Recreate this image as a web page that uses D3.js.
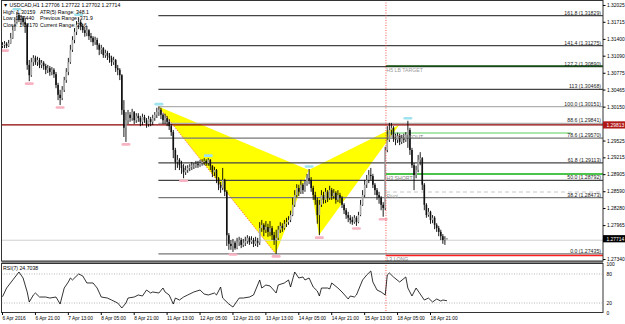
<!DOCTYPE html>
<html><head><meta charset="utf-8">
<script src="https://cdn.jsdelivr.net/npm/d3@7"></script>
<style>
html,body{margin:0;padding:0;background:#fff;}
svg{display:block;font-family:"Liberation Sans",Arial,sans-serif;}
</style></head><body>
<svg id="c" width="625" height="324"></svg>
<script>
// ---------- DATA ----------
const firstOpen = 1.3127;
const closes = [
1.3129,1.3131,1.3127,1.3132,1.3142,1.3156,1.3171,1.3184,1.3175,1.3179,
1.3171,1.3166,1.3092,1.3073,1.3097,1.3105,1.3097,1.3101,1.3092,1.3096,
1.3090,1.3083,1.3086,1.3079,1.3083,1.3075,1.3055,1.3037,1.3031,1.3046,
1.3064,1.3079,1.3097,1.3120,1.3138,1.3153,1.3166,1.3171,1.3164,1.3156,
1.3151,1.3156,1.3145,1.3142,1.3134,1.3138,1.3129,1.3120,1.3123,1.3110,
1.3114,1.3109,1.3105,1.3097,1.3101,1.3086,1.3083,1.3073,1.3009,1.2976,
1.2990,1.3000,1.2994,1.3005,1.2990,1.2998,1.2994,1.2987,1.2996,1.2990,
1.2983,1.2992,1.2987,1.2994,1.3000,1.3005,1.3009,1.3000,1.2990,1.2994,
1.2987,1.2979,1.2968,1.2935,1.2913,1.2917,1.2907,1.2902,1.2894,1.2898,
1.2902,1.2904,1.2906,1.2906,1.2909,1.2907,1.2911,1.2913,1.2915,1.2911,
1.2917,1.2906,1.2894,1.2898,1.2883,1.2871,1.2865,1.2880,1.2858,1.2778,
1.2762,1.2758,1.2764,1.2754,1.2765,1.2769,1.2760,1.2764,1.2767,1.2773,
1.2765,1.2769,1.2762,1.2767,1.2764,1.2791,1.2797,1.2788,1.2793,1.2784,
1.2791,1.2778,1.2769,1.2773,1.2788,1.2795,1.2791,1.2799,1.2802,1.2806,
1.2815,1.2834,1.2852,1.2865,1.2858,1.2871,1.2861,1.2872,1.2883,1.2880,
1.2865,1.2852,1.2843,1.2815,1.2834,1.2852,1.2843,1.2858,1.2847,1.2861,
1.2850,1.2856,1.2843,1.2852,1.2847,1.2834,1.2824,1.2815,1.2810,1.2806,
1.2802,1.2810,1.2802,1.2815,1.2834,1.2852,1.2871,1.2880,1.2889,1.2887,
1.2871,1.2861,1.2852,1.2847,1.2834,1.2828,1.2935,1.2954,1.2972,1.2976,
1.2957,1.2954,1.2961,1.2950,1.2957,1.2954,1.2963,1.2972,1.2935,1.2907,
1.2889,1.2898,1.2917,1.2920,1.2871,1.2834,1.2815,1.2821,1.2806,1.2810,
1.2797,1.2791,1.2784,1.2776,1.2769,1.27706,1.27714];
const highs = [
1.3134,1.3136,1.3134,1.3138,1.3151,1.3164,1.3180,1.3190,1.3188,1.3184,
1.3182,1.3179,1.3168,1.3101,1.3105,1.3110,1.3109,1.3107,1.3105,1.3101,
1.3099,1.3094,1.3092,1.3090,1.3088,1.3086,1.3079,1.3059,1.3046,1.3053,
1.3070,1.3086,1.3105,1.3129,1.3145,1.3160,1.3173,1.3180,1.3175,1.3168,
1.3162,1.3164,1.3158,1.3151,1.3145,1.3144,1.3142,1.3132,1.3129,1.3125,
1.3120,1.3118,1.3114,1.3109,1.3107,1.3103,1.3092,1.3086,1.3075,1.3027,
1.3005,1.3009,1.3005,1.3011,1.3007,1.3003,1.3003,1.2998,1.3002,1.3000,
1.2994,1.2998,1.2996,1.3000,1.3005,1.3013,1.3015,1.3013,1.3003,1.3002,
1.2998,1.2992,1.2983,1.2972,1.2939,1.2926,1.2920,1.2915,1.2909,1.2906,
1.2907,1.2909,1.2913,1.2911,1.2915,1.2915,1.2917,1.2918,1.2920,1.2918,
1.2920,1.2918,1.2907,1.2904,1.2900,1.2885,1.2876,1.2902,1.2882,1.2861,
1.2782,1.2769,1.2771,1.2767,1.2773,1.2775,1.2773,1.2771,1.2775,1.2778,
1.2776,1.2776,1.2773,1.2775,1.2773,1.2802,1.2806,1.2800,1.2804,1.2799,
1.2804,1.2795,1.2784,1.2788,1.2795,1.2802,1.2800,1.2806,1.2810,1.2813,
1.2823,1.2847,1.2861,1.2872,1.2871,1.2880,1.2874,1.2880,1.2891,1.2900,
1.2885,1.2869,1.2858,1.2847,1.2843,1.2861,1.2858,1.2865,1.2861,1.2869,
1.2865,1.2863,1.2859,1.2861,1.2856,1.2850,1.2837,1.2828,1.2821,1.2815,
1.2812,1.2815,1.2813,1.2821,1.2843,1.2861,1.2880,1.2889,1.2898,1.2902,
1.2891,1.2874,1.2865,1.2858,1.2850,1.2839,1.2941,1.2979,1.2985,1.2985,
1.2979,1.2965,1.2967,1.2965,1.2963,1.2965,1.2968,1.2989,1.2976,1.2939,
1.2911,1.2906,1.2926,1.2931,1.2922,1.2874,1.2837,1.2828,1.2823,1.2815,
1.2813,1.2800,1.2795,1.2788,1.2780,1.2776,1.27722];
const lows = [
1.3123,1.3123,1.3123,1.3125,1.3131,1.3140,1.3155,1.3168,1.3171,1.3166,
1.3164,1.3151,1.3083,1.3062,1.3070,1.3090,1.3092,1.3090,1.3086,1.3086,
1.3083,1.3075,1.3077,1.3072,1.3073,1.3068,1.3049,1.3027,1.3018,1.3027,
1.3042,1.3059,1.3073,1.3094,1.3116,1.3132,1.3147,1.3158,1.3156,1.3151,
1.3144,1.3145,1.3138,1.3134,1.3127,1.3129,1.3120,1.3110,1.3112,1.3105,
1.3105,1.3101,1.3096,1.3090,1.3092,1.3079,1.3073,1.3064,1.3000,1.2959,
1.2950,1.2983,1.2987,1.2989,1.2983,1.2985,1.2987,1.2979,1.2981,1.2985,
1.2976,1.2978,1.2979,1.2981,1.2989,1.2994,1.2998,1.2992,1.2983,1.2983,
1.2979,1.2972,1.2961,1.2920,1.2898,1.2902,1.2898,1.2891,1.2883,1.2889,
1.2893,1.2896,1.2898,1.2900,1.2902,1.2902,1.2904,1.2906,1.2907,1.2906,
1.2906,1.2898,1.2885,1.2887,1.2874,1.2861,1.2856,1.2861,1.2850,1.2758,
1.2751,1.2751,1.2747,1.2751,1.2752,1.2758,1.2754,1.2756,1.2758,1.2762,
1.2760,1.2762,1.2756,1.2758,1.2756,1.2760,1.2784,1.2776,1.2782,1.2775,
1.2776,1.2769,1.2760,1.27435,1.2769,1.2782,1.2784,1.2788,1.2793,1.2797,
1.2802,1.2813,1.2830,1.2848,1.2850,1.2854,1.2854,1.2858,1.2869,1.2872,
1.2858,1.2843,1.2834,1.2799,1.2778,1.2830,1.2836,1.2837,1.2839,1.2843,
1.2843,1.2845,1.2836,1.2839,1.2837,1.2828,1.2817,1.2808,1.2802,1.2799,
1.2797,1.2799,1.2795,1.2800,1.2813,1.2832,1.2848,1.2865,1.2874,1.2880,
1.2865,1.2852,1.2843,1.2836,1.2824,1.2812,1.2824,1.2931,1.2950,1.2963,
1.2950,1.2944,1.2948,1.2944,1.2946,1.2948,1.2950,1.2939,1.2926,1.2902,
1.2861,1.2883,1.2894,1.2907,1.2861,1.2824,1.2810,1.2812,1.2799,1.2800,
1.2789,1.2784,1.2776,1.2769,1.2762,1.2760,1.27702];

const fractalLowBars  = [1,13,28,60,88,112,133,154,172,185];
const fractalHighBars = [7,37,76,100,149,197];

const patternBars   = [76,133,149,154,193];           // X, A, B, C, D
const patternPrices = [1.30151,1.27435,1.28980,1.27780,1.29813];

const fibLabels = ["161.8","141.4","127.2","113","100.0","88.6","78.6","61.8","50.0","38.2","0.0"];
const fibPrices = [1.31829,1.31275,1.30890,1.30468,1.30151,1.29841,1.29570,1.29113,1.28792,1.28473,1.27435];

const levelNames  = ["H5 LB TARGET","H5 BREAKOUT","H3 SHORT","Pivot","L3 LONG"];
const levelPrices = [1.30900,1.29664,1.28908,1.28576,1.27405];

const redLinePrice = 1.29813;
const bidPrice = 1.27714;

const priceTicks = [1.32025,1.31715,1.31400,1.31090,1.30775,1.30465,1.30150,1.29525,1.29215,1.28905,1.28590,1.28280,1.27965,1.27340];

const timeTickBars = [0,16,32,48,64,80,96,112,128,144,160,176,192,208];
const timeTickLabels = ["6 Apr 2016","6 Apr 21:00","7 Apr 13:00","8 Apr 05:00","8 Apr 21:00","11 Apr 13:00","12 Apr 05:00","12 Apr 21:00","13 Apr 13:00","14 Apr 05:00","14 Apr 21:00","15 Apr 13:00","18 Apr 05:00","18 Apr 21:00"];

const rsiBars = [0,2,5,8,10,12,13,15,16,18,21,23,26,28,30,32,33,34,37,39,41,44,46,48,51,53,56,58,60,61,64,66,68,70,72,73,76,78,79,81,83,84,86,88,90,93,96,98,100,103,104,106,107,110,112,115,117,120,122,125,126,128,130,133,134,137,139,140,142,144,146,147,149,151,153,154,155,158,159,160,163,165,168,169,171,172,174,175,177,179,180,182,184,186,187,188,190,193,196,197,199,201,203,205,207,209,211,213,214,216];
const rsiValues = [33,51,67.6,84.1,71.7,42.8,22.1,36.6,40.7,32.4,32.4,30.3,32.4,17.9,51,63.4,71.7,67.6,80,75.9,61.4,61.4,51,32.4,30.3,26.2,20,9.7,20,30.3,32.4,36.6,34.5,46.9,40.7,42.8,40.7,51,42.8,36.6,17.9,30.3,26.2,32.4,36.6,42.8,46.9,38.6,36.6,40.7,36.6,53.1,30.3,17.9,11.7,30.3,30.3,32.4,36.6,67.6,51,57.2,55.2,40.7,57.2,61.4,67.6,53.1,84.1,71.7,73.8,67.6,71.7,53.1,44.8,34.5,51,51,49,61.4,51,42.8,28.3,34.5,32.4,36.6,57.2,67.6,77.9,86.2,63.4,46.9,42.8,36.6,77.9,82.1,73.8,63.4,73.8,51,34.5,51,38.6,26.2,30.3,22.1,28.3,24.1,26.2,24.7038];
const rsiLevels = [80,20];
const rsiAxisTicks = [100,80,20,0];

const weekBreakBar = 186.6;

// ---------- DRAW ----------
const svg = d3.select("#c");
const PL = 1.5, PR = 603, MT = 0.5, MB = 262, RT = 263.5, RB = 312.5;
const x  = d3.scaleLinear().domain([0,208]).range([2,430]);
const y  = d3.scaleLinear().domain([1.27340,1.32025]).range([259,5]);
const yR = d3.scaleLinear().domain([0,100]).range([312.7,264.3]);
const opens = closes.map((c,i)=> i===0 ? firstOpen : closes[i-1]);
const FS = 5.2;

svg.append("rect").attr("width",625).attr("height",324).attr("fill","#fff");
const defs = svg.append("defs");
defs.append("clipPath").attr("id","cm").append("rect").attr("x",PL).attr("y",MT).attr("width",PR-PL).attr("height",MB-MT);
defs.append("clipPath").attr("id","cr").append("rect").attr("x",PL).attr("y",RT).attr("width",PR-PL).attr("height",RB-RT);

const main = svg.append("g").attr("clip-path","url(#cm)");

// yellow pattern triangles
const pts = patternBars.map((b,i)=>[x(b), y(patternPrices[i])]);
const tri = d3.line();
main.append("path").attr("d", tri([pts[0],pts[1],pts[2]])+"Z").attr("fill","#ffff00");
main.append("path").attr("d", tri([pts[2],pts[3],pts[4]])+"Z").attr("fill","#ffff00");
main.append("path").attr("d", tri([pts[0],pts[1]])).attr("stroke","#ff3030").attr("stroke-width",0.8)
  .attr("stroke-dasharray","1,1.5").attr("fill","none");

// fib lines
const fibColor = l => (l==="100.0"||l==="88.6") ? "#b0b0b0" : (l==="78.6"||l==="38.2"||l==="0.0") ? "#777" : "#444";
main.selectAll("line.fib").data(fibPrices).join("line").attr("class","fib")
  .attr("x1", x(patternBars[0])).attr("x2", PR)
  .attr("y1", d=>y(d)).attr("y2", d=>y(d))
  .attr("stroke", (d,i)=>fibColor(fibLabels[i])).attr("stroke-width",1.3);

// current price line
main.append("line").attr("x1",PL).attr("x2",PR).attr("y1",y(bidPrice)+1.5).attr("y2",y(bidPrice)+1.5)
  .attr("stroke","#cfcfcf").attr("stroke-width",1);

// pattern level lines
const xs = x(weekBreakBar);
const lvlStyle = [
  {c:"#0a4d0a", w:1.3, d:null, x2:PR},
  {c:"#90e090", w:1.3, d:null, x2:571},
  {c:"#10b010", w:1.5, d:null, x2:PR},
  {c:"#c8c8c8", w:1.2, d:"4,3", x2:PR},
  {c:"#ff2020", w:1.5, d:null, x2:PR}
];
levelPrices.forEach((p,i)=>{
  const s = lvlStyle[i];
  main.append("line").attr("x1",xs).attr("x2",s.x2).attr("y1",y(p)).attr("y2",y(p))
    .attr("stroke",s.c).attr("stroke-width",s.w).attr("stroke-dasharray",s.d);
});

// red horizontal line
main.append("line").attr("x1",PL).attr("x2",PR).attr("y1",y(redLinePrice)).attr("y2",y(redLinePrice))
  .attr("stroke","#8b0000").attr("stroke-width",1.3);

// candles
const cg = main.append("g");
closes.forEach((c,i)=>{
  const o = opens[i];
  const hi = Math.max(highs[i],o,c), lo = Math.min(lows[i],o,c);
  const cx = x(i)+0.5;
  cg.append("line").attr("x1",cx).attr("x2",cx).attr("y1",y(hi)).attr("y2",y(lo))
    .attr("stroke","#000").attr("stroke-width",0.9);
  const top = y(Math.max(o,c)), bot = y(Math.min(o,c));
  cg.append("rect").attr("x",cx-0.8).attr("width",1.6).attr("y",top).attr("height",Math.max(0.6,bot-top))
    .attr("fill", c>=o ? "#a8a8a8" : "#111");
});

// fractal markers
fractalLowBars.forEach(b=>{
  main.append("rect").attr("x",x(b)+0.5-4.5).attr("y",y(lows[b])+1.2).attr("width",9).attr("height",2.6)
    .attr("rx",1.3).attr("fill","#f7b3c2");
});
fractalHighBars.forEach(b=>{
  main.append("rect").attr("x",x(b)+0.5-4.5).attr("y",y(highs[b])-3.8).attr("width",9).attr("height",2.6)
    .attr("rx",1.3).attr("fill","#9ee3ee");
});

// fib labels
fibPrices.forEach((p,i)=>{
  svg.append("text").attr("x",601).attr("y",y(p)-1).attr("text-anchor","end")
    .attr("font-size",FS).attr("fill","#222").text(fibLabels[i]+" ("+p.toFixed(5)+")");
});
// level labels
const lvlText = ["#9a9a9a","#8a8a8a","#808080","#a0a0a0","#8a8a8a"];
levelPrices.forEach((p,i)=>{
  svg.append("text").attr("x",xs+0.5).attr("y",y(p)+5.6).attr("font-size",FS).attr("fill",lvlText[i]).text(levelNames[i]);
});

// vertical red dotted line
svg.append("line").attr("x1",xs).attr("x2",xs).attr("y1",0).attr("y2",RB)
  .attr("stroke","#ff3030").attr("stroke-width",0.8).attr("stroke-dasharray","1,1.5");

// info text
const info = svg.append("g").attr("font-size",FS).attr("fill","#000");
info.append("text").attr("x",3).attr("y",6.5).text("\u25BC USDCAD,H1  1.27706 1.27722 1.27702 1.27714");
info.append("text").attr("x",3).attr("y",13.5).text("High: 1.30159");
info.append("text").attr("x",40).attr("y",13.5).text("ATR(5) Range: 348.1");
info.append("text").attr("x",3).attr("y",20).text("Low: 1.27440");
info.append("text").attr("x",40).attr("y",20).text("Previous Range: 371.9");
info.append("text").attr("x",3).attr("y",26.5).text("Close: 1.28170");
info.append("text").attr("x",40).attr("y",26.5).text("Current Range: 23.6");

// panel borders
svg.append("line").attr("x1",PL).attr("x2",PR).attr("y1",MB).attr("y2",MB).attr("stroke","#8a8a8a").attr("stroke-width",2);
svg.append("rect").attr("x",PL).attr("y",MT).attr("width",PR-PL).attr("height",MB-MT-1).attr("fill","none").attr("stroke","#333").attr("stroke-width",1);
svg.append("rect").attr("x",PL).attr("y",RT).attr("width",PR-PL).attr("height",RB-RT).attr("fill","none").attr("stroke","#333").attr("stroke-width",1);

// price axis
const pa = svg.append("g").attr("transform",`translate(${PR},0)`)
  .call(d3.axisRight(y).tickValues(priceTicks).tickFormat(d3.format(".5f")).tickSize(2.5).tickPadding(1.5));
pa.select(".domain").remove();
pa.selectAll("text").attr("font-size",4.9).attr("font-family","Liberation Sans, Arial, sans-serif").attr("fill","#000");
pa.selectAll("line").attr("stroke","#000");

// price boxes
function box(p, bg, txt){
  const yy = y(p);
  svg.append("rect").attr("x",PR).attr("y",yy-3.6).attr("width",22).attr("height",7.2).attr("fill",bg);
  svg.append("text").attr("x",PR+3.5).attr("y",yy+1.8).attr("font-size",4.9).attr("fill","#fff").text(txt);
}
box(redLinePrice,"#b01818",redLinePrice.toFixed(5));
box(bidPrice,"#000",bidPrice.toFixed(5));

// RSI panel
const rg = svg.append("g").attr("clip-path","url(#cr)");
rsiLevels.forEach(v=>{
  rg.append("line").attr("x1",PL).attr("x2",PR).attr("y1",yR(v)).attr("y2",yR(v))
    .attr("stroke","#999").attr("stroke-width",0.7).attr("stroke-dasharray","1,1.5");
});
const rline = d3.line().x((d,i)=>x(rsiBars[i])+0.5).y(d=>yR(d));
rg.append("path").attr("d",rline(rsiValues)).attr("fill","none").attr("stroke","#000").attr("stroke-width",0.8);
svg.append("text").attr("x",3).attr("y",270).attr("font-size",FS).attr("fill","#000").text("RSI(7) "+rsiValues[rsiValues.length-1].toFixed(4));
const ra = svg.append("g").attr("transform",`translate(${PR},0)`)
  .call(d3.axisRight(yR).tickValues(rsiAxisTicks).tickFormat(d3.format("d")).tickSize(0).tickPadding(3.5));
ra.select(".domain").remove();
ra.selectAll("text").attr("font-size",4.9).attr("font-family","Liberation Sans, Arial, sans-serif").attr("fill","#000");

// time axis
const ta = svg.append("g").attr("transform",`translate(0,${RB})`)
  .call(d3.axisBottom(x).tickValues(timeTickBars).tickFormat((d,i)=>timeTickLabels[i]).tickSize(2.5).tickPadding(1.5));
ta.select(".domain").remove();
ta.selectAll("line").attr("stroke","#000");
ta.selectAll("text").attr("text-anchor","start").attr("font-size",4.8)
  .attr("font-family","Liberation Sans, Arial, sans-serif").attr("fill","#000").attr("dx",0);
</script>
</body></html>
